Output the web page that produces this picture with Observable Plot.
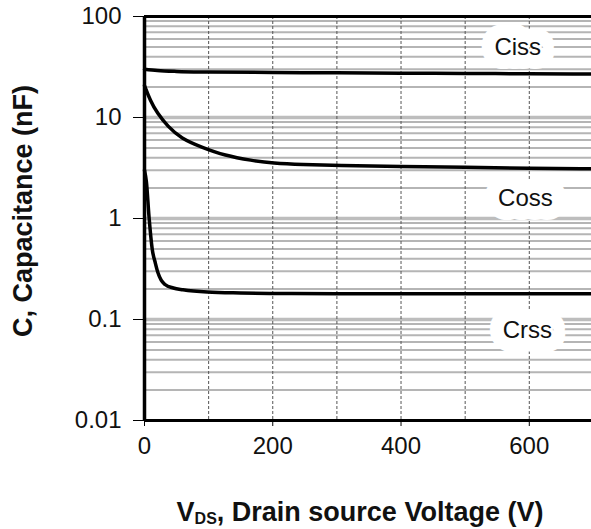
<!DOCTYPE html>
<html>
<head>
<meta charset="utf-8">
<script src="https://cdn.jsdelivr.net/npm/d3@7"></script>
<script src="https://cdn.jsdelivr.net/npm/@observablehq/plot@0.6"></script>
<style>
  html, body { margin: 0; padding: 0; background: #fff; }
  #chart svg { display: block; font-family: "Liberation Sans", Arial, sans-serif; }
</style>
</head>
<body>
<div id="chart"></div>
<script>
// ---- data ----
const xTicks = [0, 200, 400, 600];
const yTicks = [0.01, 0.1, 1, 10, 100];
const yTickLabels = ["0.01", "0.1", "1", "10", "100"];
const xGridValues = [100, 200, 300, 400, 500, 600, 700];
const decades = [0.01, 0.1, 1, 10];
const minorMultipliers = [2, 3, 4, 5, 6, 7, 8, 9];

const cissV = [0, 20, 50, 100, 200, 300, 400, 500, 600, 697];
const cissC = [30.0, 29.2, 28.6, 28.2, 27.9, 27.7, 27.5, 27.3, 27.1, 27.0];

const cossV = [0, 9, 20, 36, 57, 90, 125, 167, 200, 246, 300, 400, 500, 600, 697];
const cossC = [20.7, 14.7, 11.0, 8.2, 6.2, 5.05, 4.2, 3.75, 3.53, 3.42, 3.36, 3.28, 3.21, 3.15, 3.1];

const crssV = [0, 3, 7, 12, 17, 21, 26, 32, 45, 60, 98, 150, 200, 300, 697];
const crssC = [3.0, 2.3, 1.05, 0.5, 0.36, 0.29, 0.245, 0.222, 0.205, 0.197, 0.187, 0.183, 0.181, 0.18, 0.18];

const labelNames = ["Ciss", "Coss", "Crss"];
const labelV = [582, 594, 597];
const labelC = [50, 1.6, 0.078];

const xTitleMain = "V";
const xTitleSub = "DS";
const xTitleRest = ", Drain source Voltage (V)";
const yTitle = "C, Capacitance (nF)";

// ---- derived tables ----
const toRows = (xs, ys) => xs.map((x, i) => ({x, y: ys[i]}));
const ciss = toRows(cissV, cissC);
const coss = toRows(cossV, cossC);
const crss = toRows(crssV, crssC);
const labels = labelNames.map((t, i) => ({t, x: labelV[i], y: labelC[i]}));
const minorGrid = decades.flatMap(d => minorMultipliers.map(m => d * m));
const decadeGrid = [0.1, 1, 10];

const font = "Liberation Sans, Arial, sans-serif";

const chart = Plot.plot({
  width: 591,
  height: 529,
  marginLeft: 144,
  marginTop: 16,
  marginBottom: 109,
  marginRight: 0,
  style: {fontFamily: font, background: "white"},
  x: {domain: [0, 697], ticks: xTicks, label: null},
  y: {type: "log", domain: [0.01, 100], ticks: yTicks, label: null},
  marks: [
    Plot.ruleY(minorGrid, {stroke: "#b5b5b5", strokeWidth: 2}),
    Plot.ruleY(decadeGrid, {stroke: "#bdbdbd", strokeWidth: 3.5}),
    Plot.ruleX(xGridValues, {stroke: "#555", strokeWidth: 1, strokeDasharray: "3,2"}),
    Plot.text(labels, {
      x: "x", y: "y", text: "t",
      fontSize: 24, fill: "white", stroke: "white", strokeWidth: 28,
      strokeLinejoin: "round", paintOrder: "stroke"
    }),
    Plot.text(labels, {
      x: "x", y: "y", text: "t",
      fontSize: 24, fill: "#111"
    }),
    Plot.line(ciss, {x: "x", y: "y", stroke: "black", strokeWidth: 3.5, curve: "monotone-x"}),
    Plot.line(coss, {x: "x", y: "y", stroke: "black", strokeWidth: 3.5, curve: "basis"}),
    Plot.line(crss, {x: "x", y: "y", stroke: "black", strokeWidth: 3.5, curve: "monotone-x"}),
    Plot.ruleY([100, 0.01], {stroke: "black", strokeWidth: 3}),
    Plot.ruleX([0], {stroke: "black", strokeWidth: 3.5}),
    Plot.axisY({
      ticks: yTicks,
      tickFormat: (d) => yTickLabels[yTicks.indexOf(d)],
      tickSize: 11, tickPadding: 12, fontSize: 24, label: null,
      stroke: "black", fill: "#111"
    }),
    Plot.axisX({
      ticks: xTicks,
      tickSize: 6, tickPadding: 10, fontSize: 24, label: null,
      stroke: "black", fill: "#111"
    })
  ]
});

document.getElementById("chart").appendChild(chart);

// axis titles
const svg = d3.select(chart);
svg.append("text")
  .attr("transform", "translate(23,211) rotate(-90)")
  .attr("text-anchor", "middle")
  .attr("dominant-baseline", "central")
  .attr("font-family", font)
  .attr("font-weight", "bold")
  .attr("font-size", 27)
  .attr("fill", "#111")
  .text(yTitle);

const xt = svg.append("text")
  .attr("x", 360)
  .attr("y", 521)
  .attr("text-anchor", "middle")
  .attr("font-family", font)
  .attr("font-weight", "bold")
  .attr("font-size", 27)
  .attr("fill", "#111");
xt.append("tspan").text(xTitleMain);
xt.append("tspan").attr("font-size", 16).attr("dy", 3).text(xTitleSub);
xt.append("tspan").attr("dy", -3).text(xTitleRest);
</script>
</body>
</html>
